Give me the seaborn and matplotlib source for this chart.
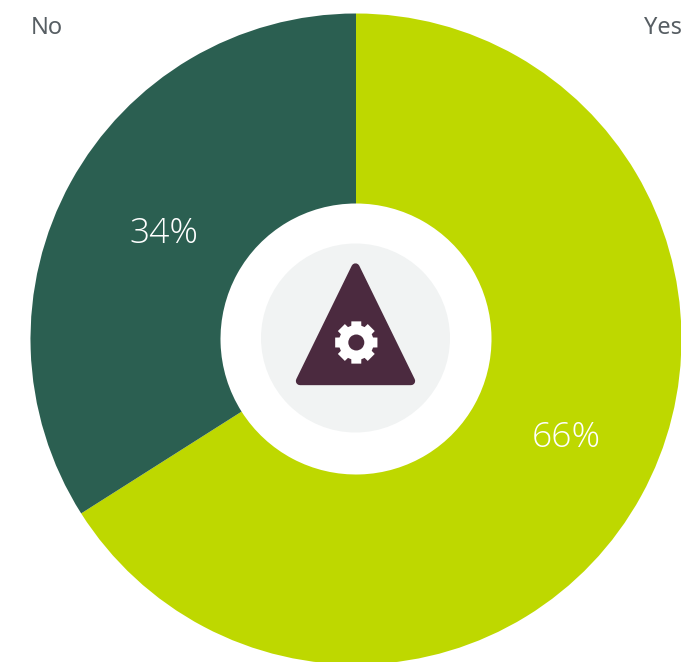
import numpy as np
import matplotlib
matplotlib.use("Agg")
import matplotlib.pyplot as plt
from matplotlib.patches import Circle, Polygon
import seaborn as sns

# Survey split shown in the ring
categories = ["Yes", "No"]
shares = [66, 34]
slice_colors = ["#bed800", "#2b5f51"]
share_labels = ["66%", "34%"]

ICON_DARK = "#4b2a3f"
LABEL_GREY = "#575e63"

W, H = 681, 662
sns.set_theme(style="white", rc={"figure.dpi": 100, "savefig.dpi": 100})
plt.rcParams["font.family"] = ["Noto Sans", "DejaVu Sans"]

fig = plt.figure(figsize=(W / 100, H / 100), facecolor="white")
ax = fig.add_axes([0, 0, 1, 1])

# Ring, in a pixel-sized data space with y pointing up
cx, cy = 356, H - 339
outer, inner = 325.5, 135.5
wedges, _ = ax.pie(
    shares,
    colors=sns.color_palette(slice_colors),
    startangle=90,
    counterclock=False,
    center=(cx, cy),
    radius=outer,
    wedgeprops={"width": outer - inner, "linewidth": 0},
)
ax.set_xlim(0, W)
ax.set_ylim(0, H)
ax.set_aspect("equal")
ax.axis("off")

# Percentages sit in the band of each slice; the larger one is nudged outward
label_nudges = [(18, 6.5), (0, 0)]
cum = np.cumsum([0] + shares)
for i, label in enumerate(share_labels):
    mid = np.deg2rad(90 - 3.6 * (cum[i] + cum[i + 1]) / 2)
    r = 219
    dx, dy = label_nudges[i]
    ax.text(cx + r * np.cos(mid) + dx, cy + r * np.sin(mid) + dy, label,
            color="white", fontsize=25.5, family=["Open Sans", "DejaVu Sans"], weight=300,
            ha="center", va="center")

# Category names in the top corners
ax.text(31, H - 25, categories[1], color=LABEL_GREY, fontsize=17, ha="left", va="center_baseline")
ax.text(682, H - 25, categories[0], color=LABEL_GREY, fontsize=17, ha="right", va="center_baseline")

# Centre badge: grey disc, rounded triangle, gear
ax.add_patch(Circle((355.5, H - 338), 94.5, fc="#f1f3f3", ec="none"))
ax.add_patch(Polygon([(355.5, H - 267.5), (300, H - 381), (411, H - 381)], closed=True,
                     fc=ICON_DARK, ec=ICON_DARK, lw=6, joinstyle="round"))

gx, gy = 356.3, H - 342.5
gear_pts = []
teeth = 8
for k in range(teeth):
    a = 2 * np.pi * k / teeth
    for off, rad in [(-0.29, 17.5), (-0.23, 21.7), (0.23, 21.7), (0.29, 17.5)]:
        gear_pts.append((gx + rad * np.cos(a + off), gy + rad * np.sin(a + off)))
ax.add_patch(Polygon(gear_pts, closed=True, fc="white", ec="none"))
ax.add_patch(Circle((gx, gy), 8, fc=ICON_DARK, ec="none"))

fig.savefig("out.png", dpi=100, facecolor="white")
